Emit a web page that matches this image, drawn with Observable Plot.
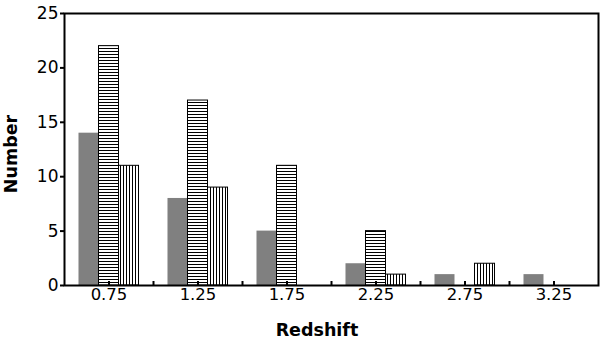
<!DOCTYPE html>
<html><head><meta charset="utf-8">
<script src="https://cdn.jsdelivr.net/npm/d3@7"></script>
<script src="https://cdn.jsdelivr.net/npm/@observablehq/plot@0.6"></script>
<style>
body{margin:0;background:#fff;}
svg{font-family:"DejaVu Sans",sans-serif;}
svg g[aria-label="y-axis tick label"], svg g[aria-label="y-axis tick label"] text{font-size:17px !important;}
svg g[aria-label="x-axis tick label"], svg g[aria-label="x-axis tick label"] text{font-size:16.5px !important;}
</style>
</head><body><div id="chart"></div>
<script>
const redshift = [0.75, 1.25, 1.75, 2.25, 2.75, 3.25];
const seriesA = [14, 8, 5, 2, 1, 1];
const seriesB = [22, 17, 11, 5, 0, 0];
const seriesC = [11, 9, 0, 1, 2, 0];
const seriesNames = ["A", "B", "C"];
const labelTicks = [0.75, 1.25, 1.75, 2.25, 2.75, 3.25];
const minorTicks = [1.0, 1.5, 2.0, 2.5, 3.0];
const yTicks = [0, 5, 10, 15, 20, 25];

const barW = 0.1124;
const rows = [];
[seriesA, seriesB, seriesC].forEach((s, k) => s.forEach((v, i) => {
  if (v > 0) rows.push({z: redshift[i], k, series: seriesNames[k], v});
}));
const x1 = d => d.z + (d.k - 1.5) * barW;
const x2 = d => d.z + (d.k - 0.5) * barW;

const plot = Plot.plot({
  width: 600, height: 339,
  marginLeft: 64, marginRight: 2, marginTop: 13, marginBottom: 54,
  style: {fontFamily: "DejaVu Sans, sans-serif", fontSize: "16.5px", color: "#000", background: "#fff"},
  x: {domain: [0.5, 3.5]},
  y: {domain: [0, 25]},
  marks: [
    Plot.rectY(rows.filter(d => d.k === 0), {x1, x2, y1: 0, y2: "v", fill: "#808080"}),
    Plot.rectY(rows.filter(d => d.k === 1), {x1, x2, y1: 0, y2: "v", fill: "url(#hatchH)", stroke: "#000", strokeWidth: 1}),
    Plot.rectY(rows.filter(d => d.k === 2), {x1, x2, y1: 0, y2: "v", fill: "url(#hatchV)", stroke: "#000", strokeWidth: 1}),
    Plot.axisY({ticks: yTicks, tickSize: 4, tickPadding: 2, label: null, strokeWidth: 2, fontSize: 17}),
    Plot.axisX({ticks: labelTicks, tickFormat: d => d.toFixed(2), tickSize: -4, tickPadding: 7, label: null, strokeWidth: 2, fontSize: 16.5}),
    Plot.axisX({ticks: minorTicks, tickFormat: () => "", tickSize: -4, label: null, strokeWidth: 2}),
    Plot.frame({stroke: "#000", strokeWidth: 2})
  ]
});

const svg = d3.select(plot);
const defs = svg.insert("defs", ":first-child");
const ph = defs.append("pattern").attr("id", "hatchH").attr("patternUnits", "userSpaceOnUse")
  .attr("width", 6).attr("height", 3);
ph.append("rect").attr("width", 6).attr("height", 3).attr("fill", "#fff");
ph.append("line").attr("x1", 0).attr("x2", 6).attr("y1", 0.5).attr("y2", 0.5).attr("stroke", "#000").attr("stroke-width", 1);
const pv = defs.append("pattern").attr("id", "hatchV").attr("patternUnits", "userSpaceOnUse")
  .attr("width", 3).attr("height", 6);
pv.append("rect").attr("width", 3).attr("height", 6).attr("fill", "#fff");
pv.append("line").attr("y1", 0).attr("y2", 6).attr("x1", 0.5).attr("x2", 0.5).attr("stroke", "#000").attr("stroke-width", 1);

svg.selectAll('g[aria-label="x-axis tick label"]').attr("font-size", 16.5);
svg.selectAll('g[aria-label="y-axis tick label"]').attr("font-size", 17);

svg.append("text").text("Number")
  .attr("transform", "translate(11,154) rotate(-90)")
  .attr("text-anchor", "middle").attr("dominant-baseline", "central")
  .attr("font-weight", "bold").attr("font-size", "17.5px").attr("fill", "#000");
svg.append("text").text("Redshift")
  .attr("x", 317).attr("y", 330)
  .attr("text-anchor", "middle").attr("dominant-baseline", "central")
  .attr("font-weight", "bold").attr("font-size", "17.5px").attr("fill", "#000");

document.getElementById("chart").appendChild(plot);
</script></body></html>
